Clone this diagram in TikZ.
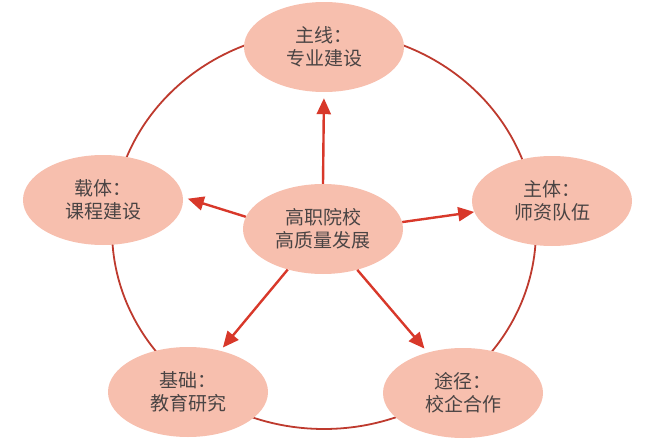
\documentclass[tikz,border=0pt]{standalone}
\usepackage{fontspec}
\newfontfamily\cjk{Noto Sans CJK SC}
\usetikzlibrary{shapes.geometric,arrows.meta}
\definecolor{ringred}{HTML}{BE3A2E}
\definecolor{arrred}{HTML}{D8382A}
\definecolor{bubble}{HTML}{F7BFAE}
\definecolor{txt}{HTML}{4A4444}
\tikzset{
  bubblenode/.style={ellipse, fill=bubble, draw=none, minimum width=160pt, minimum height=90pt,
    inner sep=0pt, align=center, text=txt, font=\cjk\fontsize{19}{23}\selectfont},
  ring/.style={draw=ringred, line width=1.8pt},
  arr/.style={draw=arrred, line width=2.4pt, -{Triangle[length=16pt,width=14pt]}}
}
\begin{document}
\begin{tikzpicture}[x=1pt,y=-1pt]
\useasboundingbox (0,0) rectangle (651,447);
\draw[ring] (324,230) ellipse [x radius=212, y radius=199];
\node[bubblenode] (c)  at (323,229) {高职院校\\高质量发展};
\node[bubblenode] (t)  at (324,47)  {主线：\\专业建设};
\node[bubblenode] (l)  at (103,200) {载体：\\课程建设};
\node[bubblenode] (r)  at (552,201) {主体：\\师资队伍};
\node[bubblenode] (bl) at (188,392) {基础：\\教育研究};
\node[bubblenode] (br) at (463,393) {途径：\\校企合作};
\draw[arr, shorten >=6pt] (c.90) -- (t.-90);
\draw[arr, shorten >=5pt] (c.171) -- (l.2);
\draw[arr] (c.5) -- (r.188);
\draw[arr, shorten >=4pt] (c.229) -- (bl.52);
\draw[arr, shorten >=5pt] (c.310) -- (br.131);
\end{tikzpicture}
\end{document}
